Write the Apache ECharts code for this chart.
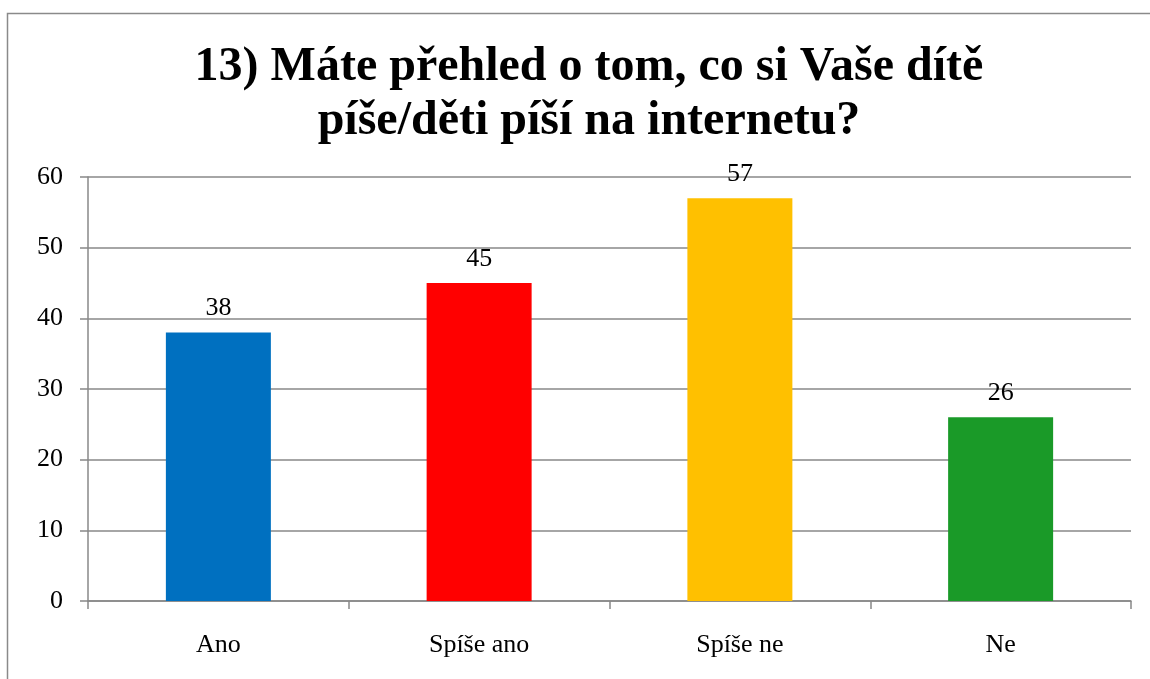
<!DOCTYPE html>
<html>
<head>
<meta charset="utf-8">
<script src="https://cdn.jsdelivr.net/npm/echarts@6/dist/echarts.min.js"></script>
<style>html,body{margin:0;padding:0;background:#fff;}#c{width:1150px;height:679px;}</style>
</head>
<body>
<div id="c"></div>
<script>
const categories = ['Ano', 'Spíše ano', 'Spíše ne', 'Ne'];
const values = [38, 45, 57, 26];
const barColors = ['#0070C0', '#FF0000', '#FFC000', '#1A9A28'];
const titleText = '13) Máte přehled o tom, co si Vaše dítě\npíše/děti píší na internetu?';

const chart = echarts.init(document.getElementById('c'));
const font = '"Liberation Serif", "Times New Roman", serif';
chart.setOption({
  backgroundColor: '#fff',
  animation: false,
  graphic: [{
    type: 'rect',
    shape: { x: 7.5, y: 13.5, width: 1300, height: 800 },
    style: { fill: 'none', stroke: '#8a8a8a', lineWidth: 1.5 },
    silent: true
  }],
  title: {
    text: titleText,
    left: 584,
    top: 36,
    textAlign: 'center',
    textStyle: { fontFamily: font, fontSize: 48, fontWeight: 'bold', color: '#000', lineHeight: 54 }
  },
  grid: { left: 88, right: 19, top: 177, bottom: 78, containLabel: false },
  xAxis: {
    type: 'category',
    data: categories,
    axisLine: { show: true, lineStyle: { color: '#888', width: 1.5 } },
    axisTick: { show: true, length: 8, alignWithLabel: false, lineStyle: { color: '#888', width: 1.5 } },
    axisLabel: { fontFamily: font, fontSize: 26, color: '#000', margin: 31 }
  },
  yAxis: {
    type: 'value',
    min: 0, max: 60, interval: 10,
    axisLine: { show: true, lineStyle: { color: '#888', width: 1.5 } },
    axisTick: { show: true, length: 8, lineStyle: { color: '#888', width: 1.5 } },
    axisLabel: { fontFamily: font, fontSize: 26, color: '#000', margin: 25 },
    splitLine: { show: true, lineStyle: { color: '#888', width: 1.5 } }
  },
  series: [{
    type: 'bar',
    barWidth: 105,
    data: values.map((v, i) => ({ value: v, itemStyle: { color: barColors[i] } })),
    label: { show: true, position: 'top', distance: 11, fontFamily: font, fontSize: 26, color: '#000' }
  }]
});
</script>
</body>
</html>
